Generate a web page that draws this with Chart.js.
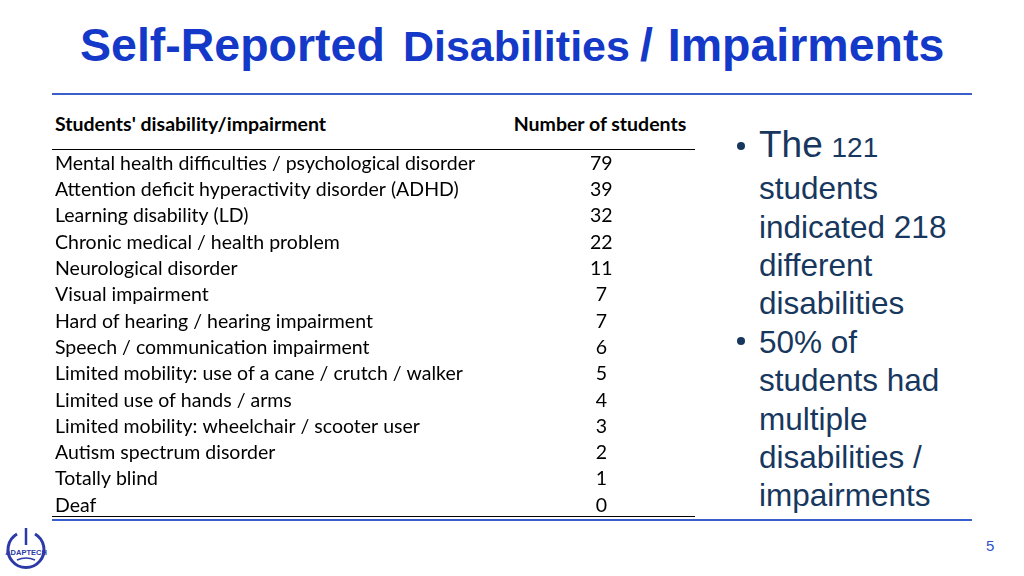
<!DOCTYPE html>
<html>
<head>
<meta charset="utf-8">
<script src="https://cdn.jsdelivr.net/npm/chart.js@4"></script>
<style>
  html, body { margin: 0; padding: 0; background: #fff; }
  body { width: 1024px; height: 576px; position: relative; overflow: hidden; font-family: "Liberation Sans", Arial, sans-serif; }
  .title { position: absolute; left: 80px; top: 22px; line-height: 1; white-space: nowrap; color: #1438c8; font-weight: bold; display: flex; align-items: baseline; }
  .title .big { font-size: 46.5px; }
  .title .small { font-size: 43px; }
  .rule { position: absolute; height: 0; }
  .blue { border-top: 2px solid #3a5fcd; }
  .black { border-top: 1px solid #000; }
  .head { position: absolute; top: 112px; font-family: Lato, sans-serif; font-weight: bold; font-size: 19.5px; color: #000; white-space: nowrap; }
  #tableBox { position: absolute; left: 52px; top: 147px; width: 643px; height: 375px; }
  .bullets { position: absolute; left: 740px; top: 0; color: #17375e; }
  .line { position: absolute; left: 19px; white-space: nowrap; font-size: 31.5px; }
  .dot { position: absolute; left: -3px; width: 8px; height: 8px; border-radius: 50%; background: #17375e; }
  .pnum { position: absolute; left: 986px; top: 537px; font-size: 15px; color: #2f52c8; }
</style>
</head>
<body>
<div class="title">
  <span class="big">Self-Reported</span>
  <span class="small" style="margin-left:18px;">Disabilities</span>
  <span class="big" style="margin-left:10px;">/</span>
  <span class="big" style="margin-left:15px;">Impairments</span>
</div>
<div class="rule blue" style="left:52px; top:93px; width:920px;"></div>

<div class="head" style="left:55px;">Students' disability/impairment</div>
<div class="head" style="left:600px; transform:translateX(-50%);">Number of students</div>
<div class="rule black" style="left:52px; top:149px; width:643px;"></div>
<div id="tableBox"><canvas id="tableChart"></canvas></div>
<div class="rule black" style="left:52px; top:516px; width:643px; border-top-width:1.5px;"></div>
<div class="rule blue" style="left:52px; top:519px; width:920px;"></div>

<div class="bullets">
  <div class="dot" style="top:142px;"></div>
  <div class="line" style="top:124px;"><span style="font-size:37px;">The</span> <span style="font-size:28px;">121</span></div>
  <div class="line" style="top:170px;">students</div>
  <div class="line" style="top:209px;">indicated 218</div>
  <div class="line" style="top:247px;">different</div>
  <div class="line" style="top:285px;">disabilities</div>
  <div class="dot" style="top:337px;"></div>
  <div class="line" style="top:324px;">50% of</div>
  <div class="line" style="top:362px;">students had</div>
  <div class="line" style="top:401px;">multiple</div>
  <div class="line" style="top:439px;">disabilities /</div>
  <div class="line" style="top:477px;">impairments</div>
</div>

<svg style="position:absolute; left:3px; top:525px;" width="46" height="48" viewBox="0 0 46 48">
  <path d="M14 9 A18 18 0 1 0 32 9" fill="none" stroke="#2b3aa6" stroke-width="3"/>
  <line x1="23" y1="3" x2="23" y2="20" stroke="#2b3aa6" stroke-width="2.5"/>
  <text x="23" y="30" text-anchor="middle" font-family="Liberation Sans" font-weight="bold" font-size="7.5" fill="#2b3aa6">ADAPTECH</text>
  <path d="M14 35 Q23 31 32 35" fill="none" stroke="#2b3aa6" stroke-width="1.5"/>
</svg>
<div class="pnum">5</div>

<script>
// rows of the table, top to bottom
const categories = [
  'Mental health difficulties / psychological disorder',
  'Attention deficit hyperactivity disorder (ADHD)',
  'Learning disability (LD)',
  'Chronic medical / health problem',
  'Neurological disorder',
  'Visual impairment',
  'Hard of hearing / hearing impairment',
  'Speech / communication impairment',
  'Limited mobility: use of a cane / crutch / walker',
  'Limited use of hands / arms',
  'Limited mobility: wheelchair / scooter user',
  'Autism spectrum disorder',
  'Totally blind',
  'Deaf'
];
const studentCounts = [79, 39, 32, 22, 11, 7, 7, 6, 5, 4, 3, 2, 1, 0];
const countLabels = studentCounts.map(v => String(v));

// tiny lineHeight so the axes don't add half-label padding above/below the rows
const cellFont = { family: 'Lato', size: 19.5, lineHeight: 0.05 };

const ctx = document.getElementById('tableChart').getContext('2d');
new Chart(ctx, {
  type: 'bar',
  data: {
    labels: categories,
    datasets: [{
      label: 'Number of students',
      data: studentCounts,
      backgroundColor: 'rgba(0,0,0,0)',
      borderWidth: 0
    }]
  },
  options: {
    indexAxis: 'y',
    responsive: true,
    maintainAspectRatio: false,
    animation: false,
    layout: { padding: { left: 3, right: 0, top: 0, bottom: 0 } },
    plugins: { legend: { display: false }, tooltip: { enabled: false } },
    scales: {
      x: { display: false, min: 0 },
      y: {
        position: 'left',
        grid: { display: false, drawTicks: false },
        border: { display: false },
        ticks: { crossAlign: 'far', color: '#000', font: cellFont, autoSkip: false, padding: 0 },
        afterFit: s => { s.width = 440; }
      },
      y2: {
        type: 'category',
        labels: countLabels,
        position: 'right',
        offset: true,
        grid: { display: false, drawTicks: false },
        border: { display: false },
        ticks: { crossAlign: 'center', color: '#000', font: cellFont, autoSkip: false, padding: 3 },
        afterFit: s => { s.width = 108; }
      }
    }
  }
});
</script>
</body>
</html>
